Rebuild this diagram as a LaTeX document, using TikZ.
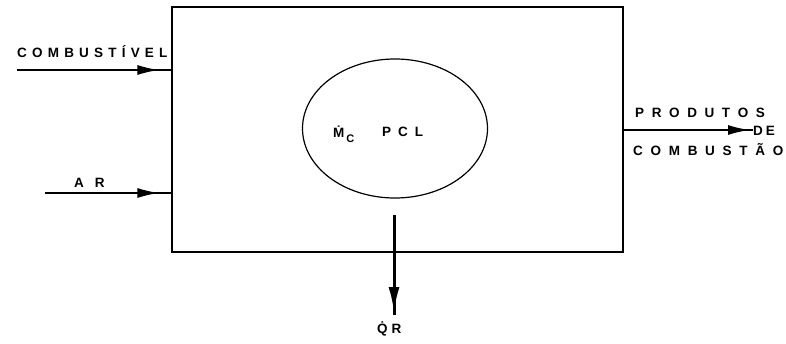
\documentclass[tikz,border=0pt]{standalone}
\usepackage{fontspec}
\setmainfont{Liberation Sans}
\usetikzlibrary{arrows.meta,decorations.markings,shapes.geometric}
\makeatletter
\newcommand\spc[2]{\def\spcsep{\kern#1}\spc@first#2\relax}
\def\spc@first#1{#1\spc@loop}
\def\spc@loop#1{\ifx#1\relax\else\spcsep#1\expandafter\spc@loop\fi}
\makeatother
\tikzset{
  lab/.style={font=\fontsize{13.5}{15}\selectfont\bfseries, inner sep=0pt, anchor=base west},
  boxstyle/.style={draw, line width=1.3pt, inner sep=0pt, minimum width=451pt, minimum height=245pt},
  flow/.style={line width=2pt},
  tipat/.style={postaction={decorate}, decoration={markings, mark=at position #1 with {\arrow{Latex[length=22pt,width=10pt]}}}},
  bigtipat/.style={postaction={decorate}, decoration={markings, mark=at position #1 with {\arrow{Latex[length=26pt,width=11pt]}}}}
}
\begin{document}
\begin{tikzpicture}[x=1pt,y=-1pt]
\useasboundingbox (0,0) rectangle (786,343);
\node[boxstyle] (box) at (397.5,129.5) {};
\node[draw, ellipse, line width=1.2pt, inner sep=0pt, minimum width=185pt, minimum height=139pt] (eff) at (395,128.5) {};
% inputs
\coordinate (cin) at (17,70);
\coordinate (ain) at (45,193);
\draw[flow, tipat=-12pt] (cin) -- (cin -| box.west);
\draw[flow, tipat=-12pt] (ain) -- (ain -| box.west);
\node[lab] (lcomb) at (17,57) {\spc{5.2pt}{COMBUSTÍVEL}};
\node[lab] (lar) at (74,187) {\spc{11pt}{AR}};
% output
\coordinate (pend) at (753,130);
\draw[flow, tipat=-3pt] (pend -| box.east) -- (pend);
\node[lab] (lprod) at (635,117) {\spc{7.6pt}{PRODUTOS}};
\node[lab] (lde) at (753,135) {\spc{3pt}{DE}};
\node[lab] (lcombu) at (633,155) {\spc{7.7pt}{COMBUSTÃO}};
% heat
\coordinate (qtop) at (394,215);
\coordinate (qbot) at (394,315);
\draw[line width=3pt, bigtipat=-2pt] (qtop) -- (qbot);
\node[lab] (lq) at (377,333) {\.{Q}\kern4pt R};
% inside
\node[lab] (lmc) at (333,137) {\.{M}\kern2pt\raisebox{-5pt}{\fontsize{11}{12}\selectfont C}};
\node[lab] (lpcl) at (382,136) {\spc{7pt}{PCL}};
\end{tikzpicture}
\end{document}
